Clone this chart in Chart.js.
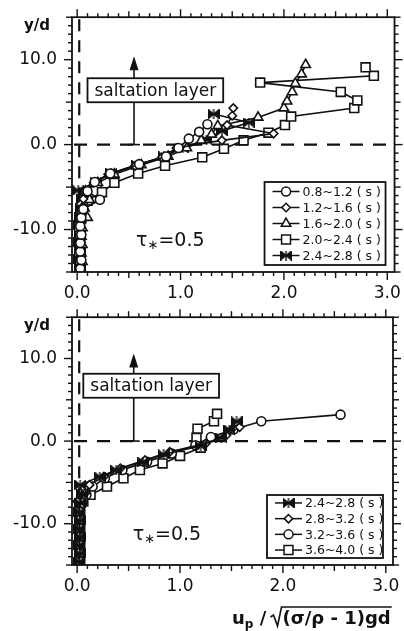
<!DOCTYPE html>
<html>
<head>
<meta charset="utf-8">
<script src="https://cdn.jsdelivr.net/npm/chart.js@4.4.1/dist/chart.umd.min.js"></script>
<style>
  body { margin: 0; background: #fff; }
  canvas { position: absolute; left: 0; }
  #upper { top: 0; }
  #lower { top: 300px; }
</style>
</head>
<body>
<canvas id="upper" width="404" height="300"></canvas>
<canvas id="lower" width="404" height="331"></canvas>
<script>
const ink = '#111';
const face = '"DejaVu Sans", "Liberation Sans", sans-serif';

// averaging windows (s) of each profile
const upperWindows = ['0.8~1.2', '1.2~1.6', '1.6~2.0', '2.0~2.4', '2.4~2.8'];
const lowerWindows = ['2.4~2.8', '2.8~3.2', '3.2~3.6', '3.6~4.0'];

// axis tick labels
const xTicks = [0, 1, 2, 3];
const yTicks = [-10, 0, 10];

// upper panel: height y/d and particle velocity up/sqrt((σ/ρ-1)gd)
const ydU1 = [-14.6, -13.6, -12.6, -11.6, -10.6, -9.6, -8.6, -7.6, -6.5, -5.5, -4.4, -3.4, -2.3, -1.4, -0.4, 0.7, 1.5, 2.4];
const upU1 = [0.03, 0.04, 0.03, 0.03, 0.04, 0.03, 0.04, 0.06, 0.22, 0.10, 0.17, 0.32, 0.60, 0.86, 0.98, 1.08, 1.18, 1.26];

const ydU2 = [-14.4, -13.4, -12.4, -11.4, -10.4, -9.4, -8.4, -7.4, -6.4, -5.4, -4.5, -3.5, -2.5, -1.5, -0.4, 0.5, 1.3, 2.3, 3.4, 4.3];
const upU2 = [0.02, 0.03, 0.02, 0.03, 0.02, 0.03, 0.04, 0.05, 0.06, 0.08, 0.16, 0.30, 0.56, 0.82, 0.96, 1.40, 1.90, 1.45, 1.50, 1.51];

const ydU3 = [-14.8, -13.8, -12.8, -11.8, -10.8, -9.8, -8.6, -7.5, -6.5, -5.5, -4.5, -3.5, -2.4, -1.4, -0.4, 0.5, 1.2, 2.2, 3.2, 4.3, 5.1, 6.2, 7.2, 8.3, 9.4];
const upU3 = [0.04, 0.05, 0.04, 0.05, 0.04, 0.05, 0.10, 0.07, 0.12, 0.08, 0.20, 0.36, 0.62, 0.88, 1.06, 1.20, 1.30, 1.36, 1.75, 2.00, 2.03, 2.08, 2.11, 2.17, 2.21];

const ydU4 = [-14.7, -13.7, -12.7, -11.7, -10.7, -9.7, -8.7, -7.7, -6.6, -5.6, -4.5, -3.4, -2.5, -1.5, -0.5, 0.5, 1.4, 2.3, 3.3, 4.3, 5.2, 6.2, 7.3, 8.1, 9.1];
const upU4 = [0.02, 0.03, 0.02, 0.03, 0.03, 0.02, 0.04, 0.05, 0.10, 0.24, 0.36, 0.59, 0.85, 1.21, 1.42, 1.61, 1.85, 2.01, 2.07, 2.68, 2.71, 2.55, 1.77, 2.87, 2.79];

const ydU5 = [-14.5, -13.5, -12.5, -11.5, -10.5, -9.5, -8.5, -7.5, -6.4, -5.4, -4.4, -3.4, -2.4, -1.4, -0.4, 0.6, 1.6, 2.6, 3.6];
const upU5 = [0.03, 0.02, 0.03, 0.02, 0.03, 0.02, 0.03, 0.04, 0.05, 0.01, 0.18, 0.33, 0.58, 0.84, 1.02, 1.25, 1.40, 1.66, 1.32];

// lower panel
const ydL1 = [-14.6, -13.6, -12.6, -11.6, -10.6, -9.6, -8.6, -7.5, -6.4, -5.3, -4.3, -3.5, -2.5, -1.6, -0.6, 0.4, 1.4, 2.4];
const upL1 = [0.02, 0.03, 0.02, 0.03, 0.02, 0.03, 0.02, 0.03, 0.05, 0.03, 0.22, 0.38, 0.64, 0.84, 1.20, 1.40, 1.48, 1.55];

const ydL2 = [-14.4, -13.4, -12.4, -11.4, -10.4, -9.4, -8.4, -7.3, -6.3, -5.3, -4.3, -3.3, -2.3, -1.3, -0.3, 0.7, 1.7];
const upL2 = [0.03, 0.02, 0.03, 0.02, 0.03, 0.02, 0.03, 0.00, 0.08, 0.12, 0.26, 0.42, 0.66, 0.90, 1.25, 1.45, 1.58];

const ydL3 = [-14.5, -13.5, -12.5, -11.5, -10.5, -9.5, -8.5, -7.5, -6.5, -5.5, -4.5, -3.5, -2.5, -1.5, -0.5, 0.5, 1.4, 2.4, 3.2];
const upL3 = [0.02, 0.03, 0.02, 0.03, 0.02, 0.03, 0.02, 0.05, 0.09, 0.15, 0.27, 0.44, 0.68, 0.92, 1.15, 1.30, 1.52, 1.79, 2.56];

const ydL4 = [-14.7, -13.7, -12.7, -11.7, -10.7, -9.7, -8.5, -7.3, -6.5, -5.5, -4.5, -3.5, -2.7, -1.8, -0.8, 0.4, 1.5, 2.4, 3.3];
const upL4 = [0.03, 0.02, 0.03, 0.02, 0.03, 0.02, 0.03, 0.06, 0.13, 0.29, 0.45, 0.61, 0.83, 1.00, 1.20, 1.16, 1.17, 1.33, 1.36];

// bow-tie marker for the 2.4~2.8 s profile
function bowtie() {
  const c = document.createElement('canvas');
  c.width = 12; c.height = 10;
  const g = c.getContext('2d');
  g.fillStyle = ink; g.strokeStyle = ink; g.lineWidth = 1.4;
  g.beginPath(); g.moveTo(0.5, 0.5); g.lineTo(6, 5); g.lineTo(0.5, 9.5); g.closePath(); g.fill(); g.stroke();
  g.beginPath(); g.moveTo(11.5, 0.5); g.lineTo(6, 5); g.lineTo(11.5, 9.5); g.closePath(); g.fill(); g.stroke();
  g.beginPath(); g.moveTo(6, 0); g.lineTo(6, 10); g.stroke();
  return c;
}

const marks = {
  circle:   { pointStyle: 'circle',   pointRadius: 4.5 },
  diamond:  { pointStyle: 'rectRot',  pointRadius: 4.2 },
  triangle: { pointStyle: 'triangle', pointRadius: 5.5 },
  square:   { pointStyle: 'rect',     pointRadius: 6.3 },
  bowtie:   { pointStyle: bowtie(),   pointRadius: 5 }
};

function profile(label, yd, up, mark) {
  return {
    label: label,
    data: yd.map((v, i) => ({ x: up[i], y: v })),
    showLine: true,
    borderColor: ink,
    borderWidth: 1.6,
    pointBackgroundColor: '#fff',
    pointBorderColor: ink,
    pointBorderWidth: 1.6,
    ...marks[mark]
  };
}

function line(ctx, x1, y1, x2, y2) {
  ctx.beginPath(); ctx.moveTo(x1, y1); ctx.lineTo(x2, y2); ctx.stroke();
}

// dashed reference lines, saltation-layer note and tau label
const backdrop = {
  id: 'backdrop',
  beforeDatasetsDraw(chart, args, o) {
    const { ctx, chartArea: a, scales: { x, y } } = chart;
    ctx.save();
    ctx.strokeStyle = ink;
    ctx.lineWidth = 2.2;
    ctx.setLineDash([13, 10]);
    const y0 = y.getPixelForValue(0);
    line(ctx, a.left + 2, y0, a.right, y0);
    ctx.setLineDash([12, 9]);
    const xb = x.getPixelForValue(0.02);
    line(ctx, xb, a.top + 2, xb, a.bottom);
    ctx.setLineDash([]);

    // arrow marking the saltation layer
    const xa = x.getPixelForValue(o.arrowX);
    const tip = y.getPixelForValue(o.arrowTop);
    ctx.lineWidth = 1.6;
    line(ctx, xa, y0, xa, tip + 10);
    line(ctx, xa - 6, y0, xa + 6, y0);
    ctx.fillStyle = ink;
    ctx.beginPath();
    ctx.moveTo(xa, tip); ctx.lineTo(xa - 4.5, tip + 14); ctx.lineTo(xa + 4.5, tip + 14);
    ctx.closePath(); ctx.fill();

    ctx.font = `17px ${face}`;
    const label = 'saltation layer';
    const tw = ctx.measureText(label).width;
    const bx = x.getPixelForValue(o.boxX);
    const by = y.getPixelForValue(o.boxY);
    ctx.fillStyle = '#fff';
    ctx.fillRect(bx, by - 12, tw + 14, 24);
    ctx.lineWidth = 1.8;
    ctx.strokeRect(bx, by - 12, tw + 14, 24);
    ctx.fillStyle = ink;
    ctx.textBaseline = 'middle';
    ctx.fillText(label, bx + 7, by + 1);

    // τ* = 0.5
    let tx = x.getPixelForValue(o.tauX);
    const ty = y.getPixelForValue(o.tauY);
    ctx.font = `19px ${face}`;
    ctx.fillText('τ', tx, ty);
    tx += ctx.measureText('τ').width;
    ctx.font = `13px ${face}`;
    ctx.fillText('∗', tx, ty + 4);
    tx += ctx.measureText('∗').width;
    ctx.font = `19px ${face}`;
    ctx.fillText('=0.5', tx, ty);
    ctx.restore();
  },
  afterDraw(chart, args, o) {
    const { ctx, chartArea: a, scales: { x, y } } = chart;
    ctx.save();
    ctx.strokeStyle = ink;
    ctx.fillStyle = ink;

    // frame with outward ticks
    ctx.lineWidth = 1.8;
    ctx.strokeRect(a.left, a.top, a.right - a.left, a.bottom - a.top);
    ctx.lineWidth = 1.4;
    for (let i = 0; i <= 30; i++) {
      const px = x.getPixelForValue(i / 10);
      const len = i % 10 === 0 ? 8 : (i % 5 === 0 ? 6 : 4);
      line(ctx, px, a.top, px, a.top - len);
      line(ctx, px, a.bottom, px, a.bottom + len);
    }
    for (let v = -15; v <= 15; v++) {
      const py = y.getPixelForValue(v);
      const len = v % 10 === 0 ? 8 : (v % 5 === 0 ? 6 : 4);
      line(ctx, a.left, py, a.left - len, py);
      line(ctx, a.right, py, a.right + len, py);
    }

    ctx.font = `bold 15px ${face}`;
    ctx.textBaseline = 'middle';
    ctx.fillText('y/d', 24, a.top + 9);

    // key
    const k = o.key;
    const sets = chart.data.datasets;
    const kx = a.right - k.right - k.w;
    const ky = a.bottom - k.bottom - k.h;
    ctx.fillStyle = '#fff';
    ctx.fillRect(kx, ky, k.w, k.h);
    ctx.lineWidth = 1.8;
    ctx.strokeRect(kx, ky, k.w, k.h);
    const first = ky + (k.h - k.row * sets.length) / 2;
    sets.forEach((ds, i) => {
      const cy = first + k.row * (i + 0.5);
      ctx.lineWidth = 1.5;
      line(ctx, kx + 8, cy, kx + 35, cy);
      ctx.fillStyle = '#fff';
      Chart.helpers.drawPoint(ctx, { pointStyle: ds.pointStyle, radius: ds.pointRadius, rotation: 0, borderWidth: 1.5 }, kx + 21.5, cy);
      ctx.fillStyle = ink;
      ctx.font = `12.5px ${face}`;
      ctx.fillText(ds.label + ' ( s )', kx + 38, cy + 1);
    });

    if (o.title) {
      let tx = 232;
      const base = chart.height - 7;
      ctx.textBaseline = 'alphabetic';
      ctx.font = `bold 18px ${face}`;
      ctx.fillText('u', tx, base);
      tx += ctx.measureText('u').width;
      ctx.font = `bold 12px ${face}`;
      ctx.fillText('p', tx, base + 4);
      tx += ctx.measureText('p').width;
      ctx.font = `bold 18px ${face}`;
      ctx.fillText(' / ', tx, base);
      tx += ctx.measureText(' / ').width - 2;
      const rad = '(σ/ρ - 1)gd';
      const rw = ctx.measureText(rad).width;
      const top = base - 17;
      ctx.lineWidth = 1.6;
      ctx.beginPath();
      ctx.moveTo(tx, base - 7); ctx.lineTo(tx + 3, base - 9);
      ctx.lineTo(tx + 7, base + 2); ctx.lineTo(tx + 11, top);
      ctx.lineTo(tx + 13 + rw, top);
      ctx.stroke();
      ctx.fillText(rad, tx + 12, base);
    }
    ctx.restore();
  }
};

function panel(id, sets, pad, axisH, o) {
  return new Chart(document.getElementById(id), {
    type: 'scatter',
    data: { datasets: sets },
    plugins: [backdrop],
    options: {
      responsive: false,
      animation: false,
      layout: { padding: pad },
      plugins: {
        legend: { display: false },
        tooltip: { enabled: false },
        backdrop: o
      },
      scales: {
        x: {
          type: 'linear', min: -0.05, max: 3.07,
          afterBuildTicks: s => { s.ticks = xTicks.map(v => ({ value: v })); },
          afterFit: s => { s.height = axisH; },
          ticks: { callback: v => v.toFixed(1), color: ink, padding: o.xPad, maxRotation: 0, font: { family: face, size: 17 } },
          grid: { drawOnChartArea: false, tickLength: 8, color: 'transparent', tickColor: 'transparent' },
          border: { display: false }
        },
        y: {
          type: 'linear', min: -15, max: 15,
          afterBuildTicks: s => { s.ticks = yTicks.map(v => ({ value: v })); },
          afterFit: s => { s.width = 72; },
          ticks: { callback: v => v.toFixed(1), color: ink, padding: 7, font: { family: face, size: 17 } },
          grid: { drawOnChartArea: false, tickLength: 8, color: 'transparent', tickColor: 'transparent' },
          border: { display: false }
        }
      }
    }
  });
}

const upperMarks = ['circle', 'diamond', 'triangle', 'square', 'bowtie'];
const upperYd = [ydU1, ydU2, ydU3, ydU4, ydU5];
const upperUp = [upU1, upU2, upU3, upU4, upU5];
panel('upper',
  upperWindows.map((w, i) => profile(w, upperYd[i], upperUp[i], upperMarks[i])),
  { top: 16, right: 7, left: 0, bottom: 0 }, 28,
  { xPad: 3, arrowX: 0.55, arrowTop: 10.4, boxX: 0.1, boxY: 6.4, tauX: 0.57, tauY: -11.4,
    key: { w: 121, h: 83, right: 9, bottom: 7, row: 16 }, title: false });

const lowerMarks = ['bowtie', 'diamond', 'circle', 'square'];
const lowerYd = [ydL1, ydL2, ydL3, ydL4];
const lowerUp = [upL1, upL2, upL3, upL4];
panel('lower',
  lowerWindows.map((w, i) => profile(w, lowerYd[i], lowerUp[i], lowerMarks[i])),
  { top: 13, right: 11, left: 0, bottom: 0 }, 66,
  { xPad: 3, arrowX: 0.55, arrowTop: 10.6, boxX: 0.06, boxY: 6.7, tauX: 0.54, tauY: -11.4,
    key: { w: 116, h: 63, right: 10, bottom: 7, row: 15.7 }, title: true });
</script>
</body>
</html>
